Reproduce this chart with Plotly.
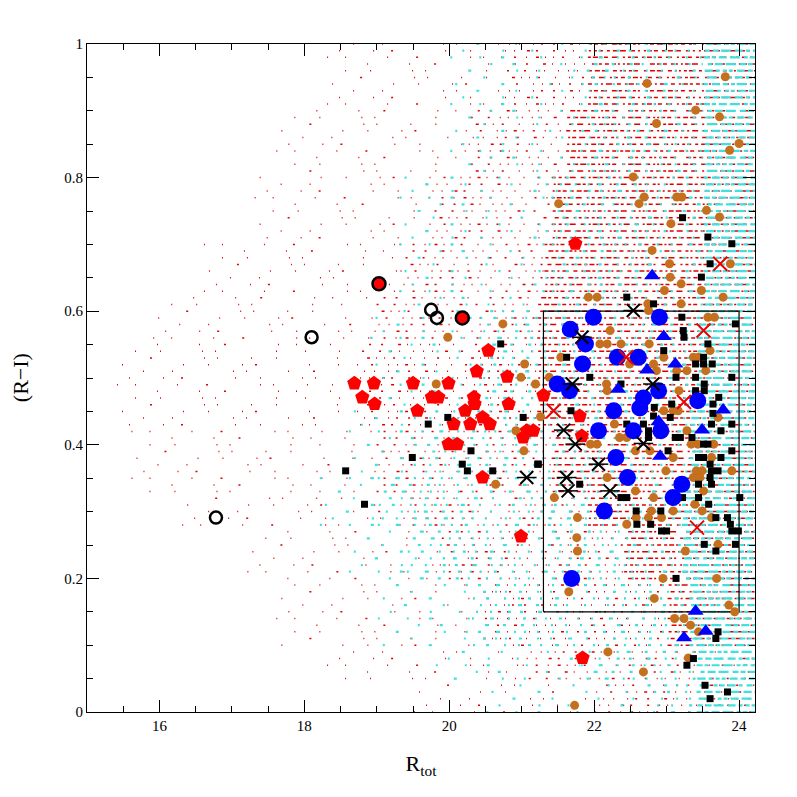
import plotly.graph_objects as go

X_RANGE = [15, 24.22]
Y_RANGE = [0, 1]

# ---------------- background field population (quantised (R-I) rows) ----------------
# bands of rows: y_lo, y_hi and where sparse / medium / dense coverage begins (R_tot)
red_band_ylo = [0.00, 0.05, 0.10, 0.20, 0.28, 0.33, 0.43, 0.56, 0.63, 0.71, 0.81, 0.91]
red_band_yhi = [0.04, 0.09, 0.19, 0.27, 0.32, 0.42, 0.55, 0.62, 0.70, 0.80, 0.90, 1.00]
red_sparse_x = [19.5, 18.3, 17.6, 17.2, 16.3, 15.6, 15.4, 15.9, 16.6, 17.3, 17.6, 18.3]
red_medium_x = [22.0, 21.0, 20.3, 19.8, 19.3, 18.9, 18.7, 18.9, 19.3, 19.7, 20.2, 20.7]
red_dense_x = [24.22, 24.22, 23.0, 22.4, 21.9, 21.4, 21.2, 21.2, 21.3, 21.4, 21.6, 21.9]

cyan_band_ylo = [0.00, 0.05, 0.10, 0.20, 0.28, 0.36, 0.46, 0.61, 0.81]
cyan_band_yhi = [0.04, 0.09, 0.19, 0.27, 0.35, 0.45, 0.60, 0.80, 1.00]
cyan_sparse_x = [20.5, 19.8, 19.0, 18.6, 18.2, 18.6, 18.9, 19.3, 20.0]
cyan_medium_x = [22.8, 21.8, 20.3, 19.4, 19.0, 19.6, 20.4, 21.4, 21.8]
cyan_dense_x = [23.4, 23.4, 23.3, 23.2, 23.2, 23.3, 23.4, 23.5, 23.5]

# ---------------- foreground samples ----------------
brown_x = [23.81, 22.73, 23.40, 23.73, 22.86, 24.00, 23.87, 22.54, 22.69, 23.14, 23.21, 21.51, 22.62, 23.55,
           23.73, 23.06, 22.80, 23.88, 23.04, 23.05, 23.20, 22.97, 23.48, 21.92, 22.04, 23.78, 22.74, 23.20,
           22.75, 23.57, 23.66, 22.22, 22.08, 22.18, 22.37, 22.76, 23.60, 22.49, 22.96, 21.54, 22.82, 22.86,
           23.37, 23.44, 23.14, 23.28, 23.54, 21.38, 21.19, 22.17, 22.18, 23.17,
           20.74, 19.98, 21.04, 20.99, 19.82, 20.92, 21.03, 20.64, 21.26,
           22.96, 23.09, 23.16, 23.71, 22.28, 22.35, 22.45, 23.28, 23.34, 23.43, 23.65, 21.95, 22.04, 22.57,
           22.77, 23.09, 23.62, 23.41, 23.49, 23.37, 23.46, 23.90, 22.99, 22.18, 23.51, 21.45, 22.57, 22.82,
           23.39, 22.79, 23.09, 23.49, 22.58, 22.75, 22.93, 21.77, 22.45, 23.62, 21.76, 23.71, 21.77, 23.26,
           22.95, 23.69, 21.65, 22.83, 23.86, 23.94, 23.11, 23.24, 23.33, 23.44, 22.19, 23.30, 22.68, 21.73]
brown_y = [0.951, 0.941, 0.901, 0.891, 0.881, 0.851, 0.841, 0.801, 0.771, 0.771, 0.771, 0.761, 0.761, 0.751,
           0.741, 0.731, 0.691, 0.671, 0.671, 0.651, 0.641, 0.631, 0.631, 0.621, 0.621, 0.621, 0.611, 0.611,
           0.601, 0.591, 0.591, 0.571, 0.551, 0.551, 0.551, 0.551, 0.541, 0.521, 0.531, 0.531, 0.521, 0.511,
           0.531, 0.531, 0.511, 0.511, 0.511, 0.501, 0.491, 0.491, 0.481, 0.481,
           0.581, 0.561, 0.521, 0.501, 0.491, 0.421, 0.391, 0.341, 0.442,
           0.451, 0.451, 0.451, 0.441, 0.431, 0.411, 0.411, 0.421, 0.401, 0.401, 0.401, 0.401, 0.401, 0.391,
           0.391, 0.381, 0.381, 0.361, 0.361, 0.351, 0.351, 0.361, 0.361, 0.351, 0.331, 0.321, 0.331, 0.321,
           0.311, 0.301, 0.301, 0.301, 0.291, 0.291, 0.291, 0.291, 0.281, 0.291, 0.261, 0.251, 0.241, 0.241,
           0.200, 0.200, 0.180, 0.170, 0.160, 0.150, 0.140, 0.140, 0.130, 0.120, 0.090, 0.081, 0.060, 0.010]

square_x = [23.22, 23.57, 23.90, 23.60, 23.48, 22.45, 22.82, 23.21, 23.95, 23.23, 23.24, 23.57, 22.96, 21.62,
            23.51, 23.51, 23.40, 23.63, 23.13, 23.40, 23.90, 21.94, 22.37, 23.40, 23.52, 23.52, 23.72,
            20.71, 21.02, 19.98, 19.71, 20.30, 19.49, 20.18, 20.25, 20.60, 18.57, 18.83, 21.22,
            21.68, 22.82, 22.83, 23.07, 23.05, 23.64, 23.64, 23.62, 23.90, 22.45, 22.68, 22.75, 22.75, 23.12,
            23.19, 23.75, 23.35, 23.51, 23.57, 23.02, 23.90, 23.44, 23.51, 23.60, 23.62, 23.71, 23.75, 21.23,
            21.80, 23.44, 23.60, 23.62, 22.37, 22.45, 23.22, 23.44, 24.01, 23.58, 22.58, 22.92, 23.68, 23.84,
            23.88, 23.90, 23.99, 22.59, 22.78, 22.93, 23.00, 23.52, 23.95, 23.68,
            23.13, 23.71, 23.68, 23.37, 23.28, 23.53, 23.84, 23.60]
square_y = [0.740, 0.711, 0.701, 0.671, 0.651, 0.621, 0.611, 0.591, 0.581, 0.571, 0.561, 0.551, 0.541, 0.531,
            0.531, 0.521, 0.521, 0.521, 0.501, 0.501, 0.501, 0.501, 0.491, 0.481, 0.491, 0.481, 0.471,
            0.551, 0.441, 0.441, 0.431, 0.391, 0.381, 0.371, 0.361, 0.361, 0.361, 0.311, 0.371,
            0.451, 0.443, 0.456, 0.461, 0.441, 0.461, 0.447, 0.431, 0.431, 0.431, 0.431, 0.421, 0.411, 0.411,
            0.411, 0.421, 0.411, 0.401, 0.401, 0.391, 0.391, 0.381, 0.381, 0.371, 0.361, 0.361, 0.381, 0.371,
            0.341, 0.341, 0.351, 0.341, 0.321, 0.321, 0.321, 0.321, 0.321, 0.311, 0.301, 0.301, 0.291, 0.291,
            0.281, 0.271, 0.271, 0.281, 0.281, 0.271, 0.271, 0.251, 0.251, 0.241,
            0.200, 0.120, 0.110, 0.080, 0.070, 0.040, 0.030, 0.020]

pent_x = [20.54, 20.38, 20.80, 18.69, 18.96, 19.50, 19.99, 18.80, 18.97, 19.76, 19.85, 20.34, 20.82, 19.56,
          20.22, 20.35, 20.06, 20.29, 20.46, 20.56, 19.99, 20.11, 21.07, 21.16, 21.02, 20.46, 20.99, 21.30,
          21.80, 21.83, 21.74, 21.84]
pent_y = [0.541, 0.510, 0.502, 0.492, 0.492, 0.492, 0.492, 0.471, 0.461, 0.471, 0.471, 0.471, 0.461, 0.451,
          0.451, 0.461, 0.431, 0.431, 0.441, 0.431, 0.401, 0.401, 0.421, 0.421, 0.411, 0.351, 0.263, 0.474,
          0.443, 0.413, 0.701, 0.081]

bcirc_x = [21.99, 22.90, 21.67, 21.88, 22.32, 22.61, 21.84, 21.49, 21.66, 22.89, 22.63, 22.68, 23.43, 22.27,
           22.06, 22.54, 22.92, 22.30, 22.46, 23.21, 23.09, 22.14, 21.69]
bcirc_y = [0.591, 0.591, 0.573, 0.551, 0.531, 0.531, 0.521, 0.491, 0.481, 0.481, 0.455, 0.470, 0.466, 0.451,
           0.421, 0.421, 0.421, 0.381, 0.351, 0.341, 0.321, 0.301, 0.200]

btri_x = [22.80, 22.96, 22.73, 23.12, 22.33, 22.89, 23.49, 23.78, 22.91, 23.40, 23.54, 23.24]
btri_y = [0.653, 0.562, 0.512, 0.521, 0.483, 0.435, 0.422, 0.452, 0.383, 0.151, 0.121, 0.111]

star_x = [22.54, 21.83, 21.70, 22.81, 21.58, 22.68, 21.74, 22.06, 21.62, 21.64, 22.22, 21.07]
star_y = [0.601, 0.561, 0.491, 0.491, 0.422, 0.402, 0.401, 0.371, 0.351, 0.331, 0.331, 0.351]

redx_x = [23.74, 23.51, 22.44, 23.24, 21.44, 23.42]
redx_y = [0.671, 0.571, 0.531, 0.464, 0.451, 0.276]

ring_x = [16.78, 18.10, 19.75, 19.83]
ring_y = [0.291, 0.561, 0.602, 0.590]

redring_x = [19.03, 20.18]
redring_y = [0.641, 0.590]

box_x = [21.3, 24.0]
box_y = [0.15, 0.60]

x_tickvals = [16, 18, 20, 22, 24]
y_tickvals = [0, 0.2, 0.4, 0.6, 0.8, 1]
y_ticktext = ["0", "0.2", "0.4", "0.6", "0.8", "1"]

FONT = "Liberation Serif"

fig = go.Figure()

# ---------- background texture styling (dash arrays in pixels) ----------
STEPS = [1, 3, 5, 7, 1, 3, 5]
PHASES = [0, 5, 2, 7, 3, 6, 1]
LEADS = [0, 13, 27, 6, 34, 19, 41]


def dash_set(dash_len, gaps, lead_scale):
    out = []
    n = len(gaps)
    for s, ph, lead in zip(STEPS, PHASES, LEADS):
        parts = ["0px", f"{max(1, round(lead * lead_scale))}px"]
        for i in range(n):
            j = (i * s + ph) % n
            parts += [f"{dash_len[j]}px", f"{gaps[(j * 3 + 1) % n]}px"]
        out.append(",".join(parts))
    return out


red_dash = {
    "s": dash_set([1, 1, 1, 2, 1, 1, 1, 1], [33, 17, 52, 24, 41, 12, 60, 28], 1.0),
    "m": dash_set([1, 2, 1, 3, 1, 1, 2, 1], [8, 12, 6, 15, 10, 7, 13, 9], 0.35),
    "d": dash_set([3, 5, 2, 4, 6, 2, 3, 4], [3, 2, 4, 3, 2, 5, 3, 2], 0.12),
}
cyan_dash = {
    "s": dash_set([2, 2, 3, 2, 2, 2, 3, 2], [38, 27, 51, 45, 20, 33, 44, 36], 1.0),
    "m": dash_set([2, 4, 2, 3, 2, 2, 3, 2], [12, 16, 9, 15, 14, 8, 11, 13], 0.35),
    "d": dash_set([6, 4, 8, 10, 4, 5, 8, 4], [3, 2, 4, 3, 3, 2, 4, 3], 0.12),
}


def add_rows(ylo, yhi, xs, xm, xd, dashes, color, width):
    segs = {}
    for lo, hi, a, b, c in zip(ylo, yhi, xs, xm, xd):
        k0, k1 = int(round(lo * 100)), int(round(hi * 100))
        for k in range(k0, k1 + 1):
            y = k / 100
            p = k % 7
            for zone, x0, x1 in (("s", a, b), ("m", b, c), ("d", c, X_RANGE[1])):
                if x1 <= x0:
                    continue
                key = (zone, p)
                sx, sy = segs.setdefault(key, ([], []))
                sx += [x0, x1, None]
                sy += [y, y, None]
    for (zone, p), (sx, sy) in segs.items():
        fig.add_trace(go.Scatter(x=sx, y=sy, mode="lines", hoverinfo="skip",
                                 line=dict(color=color, width=width, dash=dashes[zone][p])))


add_rows(red_band_ylo, red_band_yhi, red_sparse_x, red_medium_x, red_dense_x, red_dash, "#e00000", 1.5)
add_rows(cyan_band_ylo, cyan_band_yhi, cyan_sparse_x, cyan_medium_x, cyan_dense_x, cyan_dash, "#40e0e0", 2.2)

# ---------- selection box ----------
fig.add_trace(go.Scatter(x=[box_x[0], box_x[1], box_x[1], box_x[0], box_x[0]],
                         y=[box_y[0], box_y[0], box_y[1], box_y[1], box_y[0]],
                         mode="lines", line=dict(color="black", width=1.2), hoverinfo="skip"))

# ---------- markers ----------
fig.add_trace(go.Scatter(x=brown_x, y=brown_y, mode="markers",
                         marker=dict(symbol="circle", size=9, color="#c4701f", line=dict(width=0))))
fig.add_trace(go.Scatter(x=pent_x, y=pent_y, mode="markers",
                         marker=dict(symbol="pentagon", size=15, color="#ff0000", line=dict(width=0))))
fig.add_trace(go.Scatter(x=square_x, y=square_y, mode="markers",
                         marker=dict(symbol="square", size=7, color="black", line=dict(width=0))))
fig.add_trace(go.Scatter(x=bcirc_x, y=bcirc_y, mode="markers",
                         marker=dict(symbol="circle", size=17, color="#0000ff", line=dict(width=0))))
fig.add_trace(go.Scatter(x=btri_x, y=btri_y, mode="markers",
                         marker=dict(symbol="triangle-up", size=14, color="#0000ff", line=dict(width=0))))
fig.add_trace(go.Scatter(x=star_x, y=star_y, mode="markers",
                         marker=dict(symbol="x-thin-open", size=13, color="black", line=dict(width=2, color="black"))))
fig.add_trace(go.Scatter(x=star_x, y=star_y, mode="markers",
                         marker=dict(symbol="line-ew-open", size=14, color="black", line=dict(width=1.5, color="black"))))
fig.add_trace(go.Scatter(x=redx_x, y=redx_y, mode="markers",
                         marker=dict(symbol="x-thin-open", size=14, color="#ee0000", line=dict(width=2, color="#ee0000"))))
fig.add_trace(go.Scatter(x=ring_x, y=ring_y, mode="markers",
                         marker=dict(symbol="circle-open", size=12, color="black", line=dict(width=2.5, color="black"))))
fig.add_trace(go.Scatter(x=redring_x, y=redring_y, mode="markers",
                         marker=dict(symbol="circle", size=13, color="#ff0000", line=dict(width=2.5, color="black"))))

axis_common = dict(showline=True, linecolor="black", linewidth=1, mirror="allticks",
                   ticks="inside", ticklen=12, tickwidth=1, tickcolor="black",
                   showgrid=False, zeroline=False,
                   tickfont=dict(family=FONT, size=15, color="black"))

fig.update_xaxes(range=X_RANGE, tickvals=x_tickvals,
                 minor=dict(dtick=0.5, tick0=15, ticklen=6, ticks="inside", tickcolor="black", showgrid=False),
                 title=dict(text="R<sub>tot</sub>", font=dict(family=FONT, size=22, color="black"), standoff=22),
                 **axis_common)
fig.update_yaxes(range=Y_RANGE, tickvals=y_tickvals, ticktext=y_ticktext,
                 minor=dict(dtick=0.05, tick0=0, ticklen=6, ticks="inside", tickcolor="black", showgrid=False),
                 **axis_common)

# y-axis title placed as rotated text left of the tick labels
fig.add_annotation(text="(R\u2212I)", xref="paper", yref="paper", x=-0.1, y=0.5,
                   xanchor="center", yanchor="middle", textangle=-90, showarrow=False,
                   font=dict(family=FONT, size=22, color="black"))

# the page body adds an 8px offset, so the figure is 8px smaller with margins reduced accordingly
fig.update_layout(width=789, height=789, showlegend=False,
                  margin=dict(l=79, r=42, t=36, b=85, autoexpand=False),
                  plot_bgcolor="white", paper_bgcolor="white")

fig.write_html("out.html")
